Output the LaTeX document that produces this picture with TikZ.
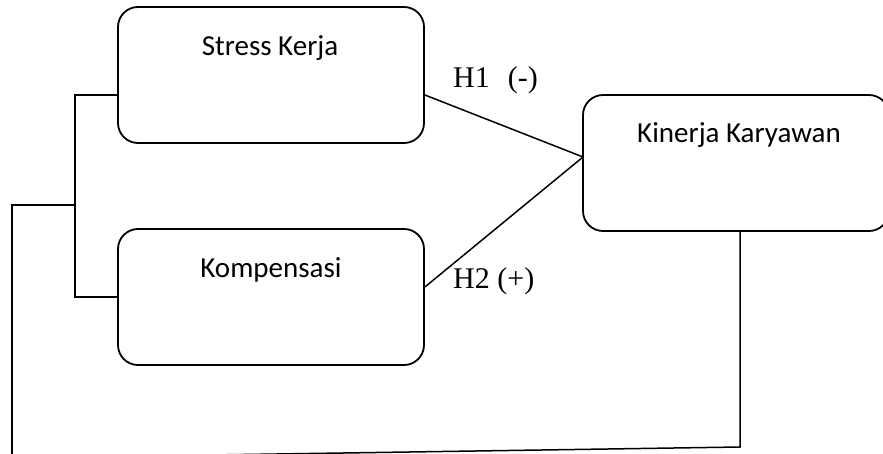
\documentclass[tikz,border=0pt]{standalone}
\usepackage{fontspec}
\setmainfont{Liberation Serif}
\newfontfamily\boxfont{Carlito}
\usetikzlibrary{calc}
\tikzset{
  varbox/.style={draw, line width=1.8pt, rounded corners=20pt, minimum width=306pt, minimum height=136pt, inner sep=0pt},
  boxtext/.style={anchor=base, inner sep=0pt, font=\boxfont\fontsize{29}{32}\selectfont},
  hyp/.style={anchor=base west, inner sep=0pt, font=\fontsize{30}{33}\selectfont},
  conn/.style={line width=1.5pt}
}
\begin{document}
\begin{tikzpicture}[x=1pt,y=-1pt]
\useasboundingbox (0,0) rectangle (883,454);
\clip (0,0) rectangle (883,454);
\node[varbox] (sk) at (271,75) {};
\node[varbox] (ks) at (271,297) {};
\node[varbox, minimum width=306pt] (kk) at (736,163) {};
\node[boxtext] (skt) at (270,56) {Stress Kerja};
\node[boxtext] (kst) at (271,278) {Kompensasi};
\node[boxtext] (kkt) at (739,143) {Kinerja Karyawan};
\node[hyp] (h1) at (453,88) {H1\hspace{18pt}(-)};
\node[hyp] (h2) at (453,288) {H2 (+)};
\coordinate (jn) at (583,157);
\coordinate (brtop) at (75,95);
\coordinate (brbot) at (75,297);
\coordinate (brmid) at (75,205);
\coordinate (lft) at (12,205);
\coordinate (lftb) at (12,458);
\coordinate (kkb) at (740,231);
\coordinate (rtb) at (740,447);
\draw[conn] ($(sk.east)+(0,20)$) -- (jn);
\draw[conn] ($(ks.east)+(0,-10)$) -- (jn);
\draw[conn] ($(sk.west)+(0,20)$) -- (brtop) -- (brbot) -- (ks.west);
\draw[conn] (brmid) -- (lft) -- (lftb);
\draw[conn] (kkb) -- (rtb) -- (lftb);
\end{tikzpicture}
\end{document}
